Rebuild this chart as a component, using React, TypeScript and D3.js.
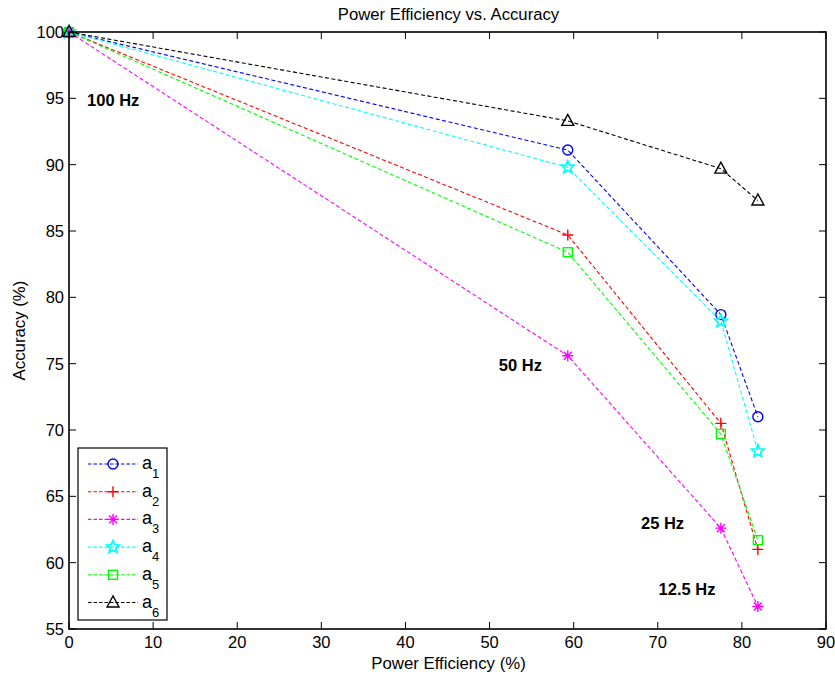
import React from "react";
import * as d3 from "d3";

const xValues = [0, 59.3, 77.5, 81.9];
const a1 = [100, 91.1, 78.7, 71.0];
const a2 = [100, 84.7, 70.5, 61.0];
const a3 = [100, 75.6, 62.6, 56.7];
const a4 = [100, 89.8, 78.2, 68.4];
const a5 = [100, 83.4, 69.7, 61.7];
const a6 = [100, 93.3, 89.7, 87.3];
const seriesNames = ["1", "2", "3", "4", "5", "6"];
const seriesColors = ["#0000ff", "#ff0000", "#ff00ff", "#00ffff", "#00ff00", "#000000"];
const seriesMarkers = ["circle", "plus", "asterisk", "star", "square", "triangle"];
const xTicks = [0, 10, 20, 30, 40, 50, 60, 70, 80, 90];
const yTicks = [55, 60, 65, 70, 75, 80, 85, 90, 95, 100];
const annotations = [
  { text: "100 Hz", x: 2.15, y: 94.42 },
  { text: "50 Hz", x: 51.1, y: 74.45 },
  { text: "25 Hz", x: 68.0, y: 62.54 },
  { text: "12.5 Hz", x: 70.1, y: 57.56 },
];

const W = 835, H = 676;
const L = 69, R = 826, T = 32, B = 629;
const FONT = "'Liberation Sans', Arial, Helvetica, sans-serif";
const FS = 16.5;

function Marker({ type, x, y, color }: { type: string; x: number; y: number; color: string }) {
  const sw = 1.4;
  if (type === "circle") return <circle cx={x} cy={y} r={5} fill="none" stroke={color} strokeWidth={sw} />;
  if (type === "plus")
    return <path d={`M${x - 5.5},${y}H${x + 5.5}M${x},${y - 5.5}V${y + 5.5}`} stroke={color} strokeWidth={sw} />;
  if (type === "asterisk") {
    const r = 5.5;
    let d = `M${x - r},${y}H${x + r}M${x},${y - r}V${y + r}`;
    const k = r * 0.72;
    d += `M${x - k},${y - k}L${x + k},${y + k}M${x - k},${y + k}L${x + k},${y - k}`;
    return <path d={d} stroke={color} strokeWidth={sw} />;
  }
  if (type === "star") {
    const pts: string[] = [];
    for (let i = 0; i < 10; i++) {
      const ang = -Math.PI / 2 + (i * Math.PI) / 5;
      const r = i % 2 === 0 ? 6.5 : 3;
      pts.push(`${x + r * Math.cos(ang)},${y + r * Math.sin(ang)}`);
    }
    return <polygon points={pts.join(" ")} fill="none" stroke={color} strokeWidth={1.8} />;
  }
  if (type === "square") return <rect x={x - 4.5} y={y - 4.5} width={9} height={9} fill="none" stroke={color} strokeWidth={sw} />;
  if (type === "triangle")
    return <polygon points={`${x},${y - 6.5} ${x - 6},${y + 4.5} ${x + 6},${y + 4.5}`} fill="none" stroke={color} strokeWidth={sw} />;
  return null;
}

export default function App() {
  const xs = d3.scaleLinear().domain([0, 90]).range([L, R]);
  const ys = d3.scaleLinear().domain([55, 100]).range([B, T]);
  const all = [a1, a2, a3, a4, a5, a6];
  const line = d3
    .line<[number, number]>()
    .x((d) => xs(d[0]))
    .y((d) => ys(d[1]));
  const tick = 7;
  const legX = 78, legY = 448, legW = 89, legH = 172;
  return (
    <svg width={W} height={H} style={{ position: "absolute", left: 0, top: 0 }} fontFamily={FONT}>
      <rect x={0} y={0} width={W} height={H} fill="#fff" />
      <text x={448.5} y={20} textAnchor="middle" fontSize={16.7}>Power Efficiency vs. Accuracy</text>
      {all.map((s, i) => (
        <g key={i}>
          <path
            d={line(s.map((v, j) => [xValues[j], v] as [number, number])) || ""}
            fill="none"
            stroke={seriesColors[i]}
            strokeWidth={1.1}
            strokeDasharray="4,2.5"
          />
          {s.map((v, j) => (
            <Marker key={j} type={seriesMarkers[i]} x={xs(xValues[j])} y={ys(v)} color={seriesColors[i]} />
          ))}
        </g>
      ))}
      {annotations.map((a, i) => (
        <text key={i} x={xs(a.x)} y={ys(a.y)} fontSize={FS} fontWeight="bold">{a.text}</text>
      ))}
      <rect x={L} y={T} width={R - L} height={B - T} fill="none" stroke="#000" strokeWidth={1.6} />
      {xTicks.map((t) => (
        <g key={t}>
          <line x1={xs(t)} x2={xs(t)} y1={B} y2={B - tick} stroke="#000" />
          <line x1={xs(t)} x2={xs(t)} y1={T} y2={T + tick} stroke="#000" />
          <text x={xs(t)} y={B + 19} textAnchor="middle" fontSize={FS}>{t}</text>
        </g>
      ))}
      {yTicks.map((t) => (
        <g key={t}>
          <line x1={L} x2={L + tick} y1={ys(t)} y2={ys(t)} stroke="#000" />
          <line x1={R} x2={R - tick} y1={ys(t)} y2={ys(t)} stroke="#000" />
          <text x={L - 5} y={ys(t) + 6} textAnchor="end" fontSize={FS}>{t}</text>
        </g>
      ))}
      <text x={448.5} y={669} textAnchor="middle" fontSize={16.8}>Power Efficiency (%)</text>
      <text transform={`translate(25,${(T + B) / 2}) rotate(-90)`} textAnchor="middle" fontSize={16.8}>Accuracy (%)</text>
      <rect x={legX} y={legY} width={legW} height={legH} fill="#fff" stroke="#000" strokeWidth={1.2} />
      {seriesNames.map((n, i) => {
        const cy = 464 + i * 27.7;
        return (
          <g key={n}>
            <line x1={88} x2={138} y1={cy} y2={cy} stroke={seriesColors[i]} strokeWidth={1.1} strokeDasharray="3.5,2" />
            <Marker type={seriesMarkers[i]} x={113} y={cy} color={seriesColors[i]} />
            <text x={142} y={cy + 5} fontSize={18}>a</text>
            <text x={152} y={cy + 14} fontSize={13}>{n}</text>
          </g>
        );
      })}
    </svg>
  );
}
